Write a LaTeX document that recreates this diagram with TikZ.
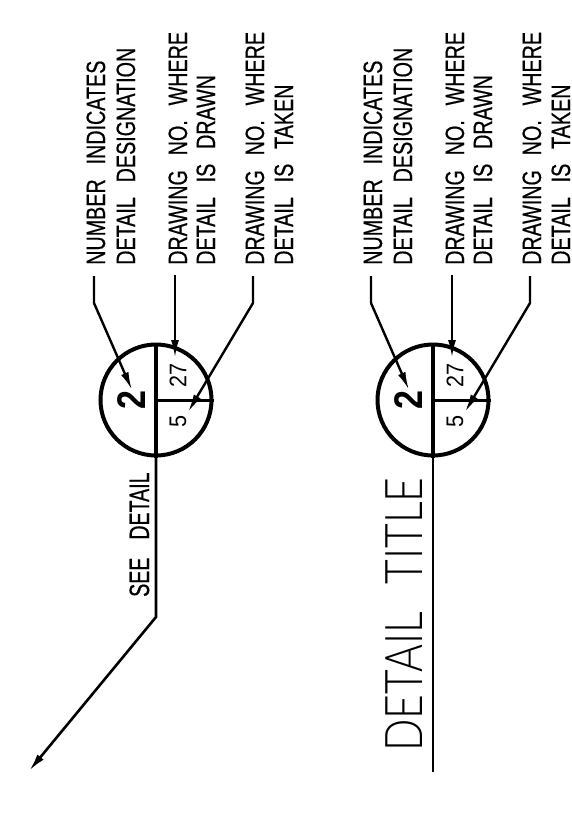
\documentclass[tikz,border=0pt]{standalone}
\usepackage{fontspec}
\usetikzlibrary{arrows.meta}

\newfontfamily\notefont[FakeStretch=0.745,WordSpace=2.7,FakeBold=0.5]{Liberation Sans}
\newfontfamily\seefont[FakeStretch=0.7,WordSpace=3.3,FakeBold=0.5]{Liberation Sans}
\newfontfamily\numfont[FakeStretch=0.9]{Liberation Sans}
\newfontfamily\markfont[FakeStretch=0.85]{Liberation Sans Bold}
\newfontfamily\titlefont[FakeStretch=0.82,WordSpace=2.4]{Lato Light}

\tikzset{
  note/.style={rotate=90, anchor=base west, inner sep=0pt, font=\notefont\fontsize{26.5}{26.5}\selectfont},
  num/.style={rotate=90, inner sep=0pt, font=\numfont\fontsize{24}{24}\selectfont},
  leader/.style={line width=2.4pt, -{Latex[length=18pt,width=8pt]}}
}

\begin{document}
\begin{tikzpicture}[x=1pt, y=-1pt]

\def \base {265}

\useasboundingbox (0,0) rectangle (572,831);

\foreach \g/\d in {a/0, b/277}
{
  % the labels of one mark
  \node[note] (number\g) at (105+\d,\base) {NUMBER INDICATES};
  \node[note] (desig\g) at (135+\d,\base) {DETAIL DESIGNATION};
  \node[note] (drawn\g) at (187+\d,\base) {DRAWING NO. WHERE};
  \node[note] (drawnb\g) at (215+\d,\base) {DETAIL IS DRAWN};
  \node[note] (taken\g) at (264+\d,\base) {DRAWING NO. WHERE};
  \node[note] (takenb\g) at (293+\d,\base) {DETAIL IS TAKEN};

  \node[draw, circle, line width=4pt, minimum size=111pt, inner sep=0pt] (mark\g) at (156+\d,400) {};
  \node[rotate=90, inner sep=0pt, font=\markfont\fontsize{40}{40}\selectfont] (two\g) at (132+\d,400) {2};
  \node[num] (sheet\g) at (178+\d,375) {27};
  \node[num] (from\g) at (178+\d,421) {5};

  \draw[line width=3pt] (mark\g.center) -- (mark\g.east);

  \coordinate (na\g) at (94+\d,276);
  \coordinate (nb\g) at (94+\d,303);
  \coordinate (nc\g) at (132+\d,390);
  \coordinate (da\g) at (175+\d,275);
  \coordinate (dc\g) at (175+\d,358);
  \coordinate (ta\g) at (253+\d,276);
  \coordinate (tb\g) at (253+\d,303);
  \coordinate (tc\g) at (188+\d,412);

  \draw[leader] (na\g) -- (nb\g) -- (nc\g);
  \draw[leader] (da\g) -- (dc\g);
  \draw[leader] (ta\g) -- (tb\g) -- (tc\g);
}

% see detail
\coordinate (kneea) at (156,617);
\coordinate (tipa) at (29,771);
\draw[line width=4pt] (marka.north) -- (marka.south);
\draw[leader, line width=2.6pt] (marka.south) -- (kneea) -- (tipa);
\node[rotate=90, anchor=base west, inner sep=0pt, font=\seefont\fontsize{28}{28}\selectfont] (seedetail) at (149,597) {SEE DETAIL};

% detail title
\coordinate (enda) at (433,772);
\draw[line width=4pt] (markb.north) -- (markb.south);
\draw[line width=2.6pt] (markb.south) -- (enda);
\node[rotate=90, anchor=base west, inner sep=0pt, font=\titlefont\fontsize{52}{52}\selectfont] (title) at (422,752) {DETAIL TITLE};

\end{tikzpicture}
\end{document}
